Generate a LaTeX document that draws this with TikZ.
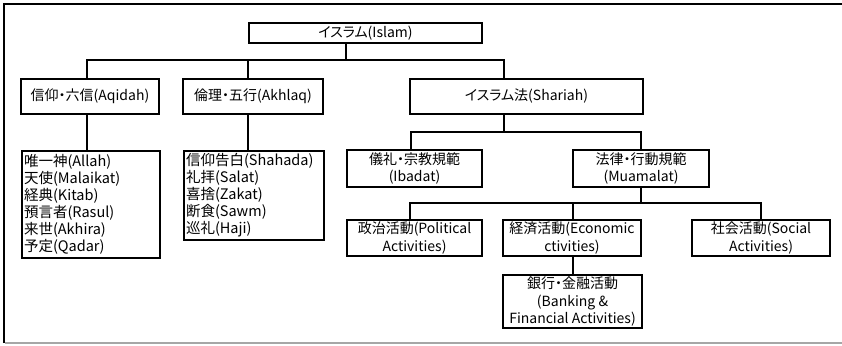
\documentclass[tikz,border=0pt]{standalone}
\usepackage{fontspec}
\setmainfont{Noto Sans CJK JP}[RawFeature={+palt}]
\begin{document}
\begin{tikzpicture}[x=1pt,y=-1pt]
\tikzset{
  box/.style={draw, line width=2pt, inner sep=0pt, align=center,
    font=\fontsize{14}{17.5}\selectfont},
  listbox/.style={draw, line width=2pt, inner xsep=2pt, inner ysep=1pt,
    align=left, anchor=north west, font=\fontsize{14.5}{17}\selectfont},
  conn/.style={line width=2pt},
  frameline/.style={line width=2pt},
}
\useasboundingbox (0,0) rectangle (842,345);
\draw[frameline] (4,343) -- (4,4) -- (842,4);
\draw[gray!70, line width=1.2pt] (5,343) -- (842,343);

% level 1
\node[box, minimum width=233pt, minimum height=20pt] (islam) at (365.5,33) {イスラム(Islam)};
% level 2
\node[box, minimum width=138pt, minimum height=35pt] (aqidah) at (90,96) {信仰・六信(Aqidah)};
\node[box, minimum width=140pt, minimum height=35pt] (akhlaq) at (253,96) {倫理・五行(Akhlaq)};
\node[box, minimum width=233pt, minimum height=35pt] (shariah) at (526.5,96) {イスラム法(Shariah)};
% lists
\node[listbox, text width=134pt, minimum height=107pt] (lista) at (21,150)
  {唯一神(Allah)\\天使(Malaikat)\\経典(Kitab)\\預言者(Rasul)\\来世(Akhira)\\予定(Qadar)};
\node[listbox, text width=136pt, minimum height=89pt] (listb) at (183,150)
  {信仰告白(Shahada)\\礼拝(Salat)\\喜捨(Zakat)\\断食(Sawm)\\巡礼(Haji)};
% level 3
\node[box, minimum width=135pt, minimum height=37pt] (ibadat) at (414.5,168.5) {儀礼・宗教規範\\(Ibadat)};
\node[box, minimum width=136pt, minimum height=37pt] (muamalat) at (641,168.5) {法律・行動規範\\(Muamalat)};
% level 4
\node[box, minimum width=135pt, minimum height=36pt] (political) at (414.5,238) {政治活動(Political\\Activities)};
\node[box, minimum width=138pt, minimum height=36pt] (economic) at (572,238) {経済活動(Economic\\ctivities)};
\node[box, minimum width=138pt, minimum height=36pt] (social) at (761,238) {社会活動(Social\\Activities)};
% level 5
\node[box, minimum width=139pt, minimum height=53pt] (banking) at (572.5,301.5) {銀行・金融活動\\(Banking \&\\Financial Activities)};

% junctions
\coordinate (j0) at (346,60);
\coordinate (jA) at (87,60);
\coordinate (jB) at (248,60);
\coordinate (jC) at (504,60);
\coordinate (jS) at (504,132);
\coordinate (jI) at (411,132);
\coordinate (jM) at (641,132);
\coordinate (jL) at (641,203);
\coordinate (jP) at (410,203);
\coordinate (jE) at (573,203);
\coordinate (jSo) at (761,203);

% connectors
\draw[conn] (islam.south -| j0) -- (j0);
\draw[conn] (aqidah.north -| jA) -- (jA) -- (jC) -- (shariah.north -| jC);
\draw[conn] (akhlaq.north -| jB) -- (jB);
\draw[conn] (aqidah.south -| jA) -- (lista.north -| jA);
\draw[conn] (akhlaq.south -| jB) -- (listb.north -| jB);
\draw[conn] (shariah.south -| jS) -- (jS);
\draw[conn] (ibadat.north -| jI) -- (jI) -- (jM) -- (muamalat.north -| jM);
\draw[conn] (muamalat.south -| jL) -- (jL);
\draw[conn] (political.north -| jP) -- (jP) -- (jSo) -- (social.north -| jSo);
\draw[conn] (economic.north -| jE) -- (jE);
\draw[conn] (economic.south -| jE) -- (banking.north -| jE);
\end{tikzpicture}
\end{document}
